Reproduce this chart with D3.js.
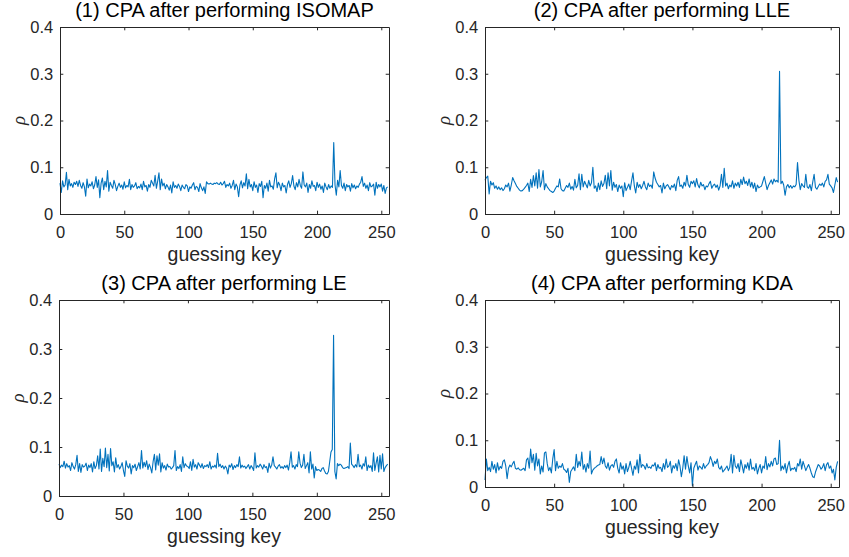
<!DOCTYPE html>
<html>
<head>
<meta charset="utf-8">
<script src="https://cdn.jsdelivr.net/npm/d3@7"></script>
<style>
  html, body { margin: 0; padding: 0; background: #fff; }
  svg { display: block; font-family: "Liberation Sans", Arial, sans-serif; }
  .tick line { stroke: #262626; }
  .domain { stroke: #262626; }
  .tick text { fill: #262626; font-size: 16.5px; }
</style>
</head>
<body>
<div id="chart"></div>
<script>
const titles = [
    "(1) CPA after performing ISOMAP",
    "(2) CPA after performing LLE",
    "(3) CPA after performing LE",
    "(4) CPA after performing KDA"
];
const xTicks = [0, 50, 100, 150, 200, 250];
const yTicks = [0, 0.1, 0.2, 0.3, 0.4];

// correlation per guessing key (0..255)
const isomap = [
    0.066,0.046,0.071,0.058,0.062,0.089,0.052,0.074,0.060,0.065,0.057,0.068,0.063,0.070,0.059,0.072,
    0.061,0.055,0.067,0.058,0.038,0.075,0.056,0.064,0.060,0.069,0.054,0.062,0.080,0.057,0.073,0.035,
    0.066,0.077,0.052,0.070,0.058,0.093,0.049,0.068,0.061,0.055,0.072,0.063,0.050,0.059,0.066,0.057,
    0.062,0.053,0.069,0.056,0.061,0.058,0.074,0.052,0.063,0.057,0.060,0.067,0.054,0.059,0.056,0.064,
    0.052,0.070,0.058,0.061,0.049,0.063,0.057,0.072,0.066,0.060,0.083,0.055,0.070,0.088,0.052,0.075,
    0.060,0.066,0.054,0.063,0.058,0.051,0.062,0.045,0.069,0.057,0.061,0.055,0.064,0.059,0.050,0.062,
    0.057,0.054,0.063,0.060,0.048,0.058,0.055,0.062,0.067,0.052,0.059,0.057,0.048,0.065,0.056,0.050,
    0.058,0.044,0.069,0.065,0.064,0.066,0.064,0.063,0.066,0.065,0.067,0.064,0.063,0.068,0.062,0.065,
    0.070,0.057,0.063,0.060,0.066,0.055,0.061,0.072,0.052,0.064,0.058,0.037,0.062,0.071,0.056,0.067,
    0.060,0.086,0.054,0.074,0.058,0.063,0.050,0.069,0.057,0.062,0.046,0.065,0.059,0.070,0.035,0.061,
    0.055,0.066,0.049,0.072,0.058,0.060,0.053,0.075,0.088,0.056,0.068,0.062,0.050,0.066,0.058,0.061,
    0.045,0.063,0.071,0.057,0.065,0.082,0.060,0.052,0.067,0.058,0.074,0.061,0.055,0.090,0.062,0.058,
    0.066,0.046,0.063,0.055,0.071,0.059,0.061,0.050,0.068,0.057,0.064,0.053,0.060,0.046,0.066,0.058,
    0.052,0.063,0.055,0.060,0.057,0.153,0.062,0.040,0.072,0.058,0.093,0.061,0.055,0.066,0.050,0.063,
    0.058,0.061,0.049,0.065,0.056,0.062,0.054,0.060,0.057,0.064,0.068,0.080,0.059,0.066,0.055,0.062,
    0.050,0.067,0.058,0.060,0.064,0.040,0.068,0.055,0.063,0.058,0.064,0.049,0.061,0.044,0.056,0.058
];
const lle = [
    0.072,0.078,0.081,0.043,0.070,0.062,0.067,0.055,0.060,0.053,0.058,0.052,0.056,0.050,0.054,0.062,
    0.058,0.066,0.049,0.062,0.078,0.071,0.065,0.059,0.055,0.051,0.049,0.050,0.053,0.057,0.061,0.066,
    0.048,0.074,0.057,0.082,0.060,0.088,0.055,0.095,0.058,0.069,0.093,0.052,0.065,0.058,0.054,0.050,
    0.048,0.046,0.049,0.055,0.060,0.058,0.075,0.054,0.050,0.049,0.055,0.061,0.057,0.066,0.053,0.059,
    0.051,0.074,0.056,0.061,0.086,0.052,0.085,0.058,0.070,0.063,0.056,0.072,0.060,0.067,0.100,0.055,
    0.060,0.048,0.066,0.052,0.071,0.059,0.065,0.083,0.054,0.088,0.060,0.093,0.051,0.068,0.057,0.063,
    0.048,0.062,0.055,0.060,0.037,0.067,0.050,0.057,0.064,0.052,0.071,0.088,0.060,0.045,0.068,0.057,
    0.063,0.054,0.061,0.070,0.058,0.052,0.066,0.059,0.062,0.055,0.090,0.077,0.068,0.063,0.058,0.061,
    0.045,0.066,0.054,0.060,0.063,0.058,0.052,0.061,0.057,0.064,0.050,0.072,0.080,0.059,0.062,0.055,
    0.068,0.060,0.083,0.063,0.057,0.070,0.065,0.071,0.058,0.076,0.062,0.056,0.068,0.060,0.063,0.052,
    0.060,0.058,0.065,0.070,0.055,0.061,0.064,0.057,0.062,0.051,0.060,0.085,0.057,0.098,0.060,0.066,
    0.054,0.062,0.058,0.071,0.055,0.066,0.060,0.068,0.057,0.074,0.063,0.079,0.065,0.070,0.061,0.075,
    0.058,0.068,0.055,0.066,0.048,0.062,0.056,0.058,0.060,0.070,0.080,0.066,0.052,0.061,0.067,0.073,
    0.064,0.075,0.069,0.072,0.068,0.305,0.065,0.070,0.062,0.040,0.058,0.063,0.056,0.061,0.055,0.060,
    0.058,0.063,0.110,0.072,0.052,0.065,0.060,0.057,0.085,0.058,0.055,0.063,0.050,0.068,0.085,0.057,
    0.053,0.059,0.064,0.061,0.066,0.058,0.070,0.073,0.085,0.064,0.060,0.056,0.046,0.062,0.078,0.068
];
const le = [
    0.065,0.058,0.063,0.060,0.071,0.057,0.066,0.059,0.062,0.052,0.068,0.060,0.055,0.064,0.083,0.050,
    0.066,0.048,0.064,0.059,0.061,0.067,0.052,0.063,0.058,0.066,0.049,0.070,0.056,0.062,0.082,0.055,
    0.096,0.050,0.077,0.060,0.098,0.058,0.085,0.051,0.097,0.062,0.070,0.049,0.078,0.058,0.064,0.055,
    0.060,0.068,0.052,0.040,0.072,0.061,0.057,0.066,0.045,0.062,0.058,0.065,0.052,0.060,0.068,0.055,
    0.093,0.057,0.069,0.060,0.072,0.054,0.065,0.058,0.047,0.070,0.085,0.053,0.082,0.063,0.086,0.049,
    0.068,0.057,0.062,0.053,0.065,0.059,0.060,0.055,0.058,0.062,0.093,0.052,0.060,0.056,0.064,0.050,
    0.080,0.058,0.066,0.061,0.060,0.056,0.070,0.052,0.075,0.059,0.064,0.055,0.068,0.063,0.058,0.066,
    0.056,0.062,0.060,0.064,0.058,0.070,0.055,0.061,0.059,0.063,0.057,0.087,0.060,0.065,0.058,0.062,
    0.055,0.061,0.057,0.045,0.063,0.059,0.066,0.054,0.062,0.058,0.064,0.060,0.080,0.057,0.063,0.059,
    0.061,0.056,0.060,0.064,0.055,0.062,0.058,0.052,0.088,0.057,0.062,0.059,0.065,0.061,0.055,0.064,
    0.058,0.060,0.048,0.067,0.057,0.063,0.080,0.062,0.059,0.055,0.061,0.064,0.057,0.060,0.056,0.062,
    0.058,0.063,0.053,0.068,0.090,0.059,0.062,0.055,0.064,0.060,0.090,0.067,0.058,0.063,0.085,0.056,
    0.062,0.068,0.047,0.090,0.055,0.065,0.037,0.060,0.052,0.054,0.053,0.050,0.056,0.058,0.051,0.046,
    0.045,0.050,0.070,0.090,0.095,0.328,0.050,0.035,0.066,0.062,0.065,0.063,0.058,0.056,0.057,0.058,
    0.060,0.056,0.108,0.065,0.062,0.058,0.064,0.059,0.085,0.060,0.063,0.055,0.066,0.061,0.080,0.052,
    0.063,0.058,0.062,0.050,0.088,0.052,0.067,0.080,0.049,0.083,0.055,0.086,0.050,0.058,0.062,0.065
];
const kda = [
    0.015,0.060,0.035,0.042,0.033,0.055,0.038,0.048,0.030,0.052,0.036,0.044,0.040,0.055,0.058,0.045,
    0.018,0.040,0.047,0.043,0.050,0.055,0.040,0.038,0.041,0.037,0.036,0.038,0.040,0.035,0.058,0.062,
    0.040,0.081,0.052,0.070,0.036,0.072,0.045,0.060,0.028,0.045,0.032,0.073,0.075,0.050,0.035,0.042,
    0.030,0.060,0.080,0.035,0.055,0.040,0.045,0.042,0.050,0.038,0.036,0.031,0.040,0.010,0.033,0.038,
    0.043,0.035,0.070,0.042,0.055,0.045,0.075,0.038,0.048,0.032,0.050,0.040,0.077,0.028,0.036,0.040,
    0.042,0.045,0.047,0.048,0.065,0.050,0.062,0.045,0.040,0.052,0.036,0.045,0.048,0.042,0.055,0.060,
    0.040,0.030,0.052,0.038,0.045,0.028,0.050,0.033,0.042,0.055,0.040,0.025,0.045,0.038,0.058,0.030,
    0.070,0.042,0.048,0.045,0.038,0.050,0.041,0.043,0.040,0.047,0.045,0.052,0.035,0.048,0.040,0.042,
    0.033,0.050,0.038,0.060,0.042,0.045,0.055,0.030,0.046,0.040,0.050,0.035,0.058,0.045,0.022,0.040,
    0.067,0.038,0.065,0.045,0.030,0.052,0.003,0.040,0.048,0.055,0.036,0.045,0.042,0.038,0.050,0.040,
    0.045,0.048,0.052,0.065,0.057,0.044,0.055,0.050,0.060,0.042,0.038,0.045,0.032,0.036,0.040,0.045,
    0.035,0.042,0.070,0.030,0.068,0.045,0.040,0.050,0.033,0.058,0.045,0.030,0.048,0.040,0.052,0.036,
    0.060,0.038,0.042,0.035,0.050,0.028,0.040,0.048,0.030,0.045,0.040,0.065,0.037,0.050,0.043,0.055,
    0.045,0.060,0.062,0.048,0.050,0.100,0.035,0.045,0.038,0.050,0.030,0.045,0.055,0.035,0.040,0.038,
    0.042,0.033,0.050,0.045,0.060,0.038,0.055,0.045,0.035,0.042,0.048,0.040,0.030,0.022,0.020,0.032,
    0.040,0.048,0.045,0.038,0.042,0.050,0.035,0.048,0.052,0.040,0.045,0.030,0.038,0.015,0.042,0.055
];

const series = [isomap, lle, le, kda];
// plot boxes: left, top, right, bottom
const boxes = [
    [60, 27, 389, 214],
    [485, 27, 839, 214],
    [59, 300, 389, 496],
    [485, 300, 839, 487]
];

const width = 849, height = 557;
const svg = d3.select("#chart").append("svg")
    .attr("width", width)
    .attr("height", height);

const fmt = d => d === 0 ? "0" : d3.format(".1f")(d);

series.forEach((values, k) => {
    const [l, t, r, b] = boxes[k];
    const x = d3.scaleLinear().domain([0, 256]).range([l, r]);
    const y = d3.scaleLinear().domain([0, 0.4]).range([b, t]);
    const tick = 3.3;

    const g = svg.append("g");

    g.append("path")
        .datum(values)
        .attr("fill", "none")
        .attr("stroke", "#0072BD")
        .attr("stroke-width", 1.1)
        .attr("stroke-linejoin", "round")
        .attr("d", d3.line().x((d, i) => x(i)).y(d => y(d)));

    g.append("g")
        .attr("transform", `translate(0,${b})`)
        .call(d3.axisBottom(x).tickValues(xTicks).tickSize(-tick).tickSizeOuter(0).tickPadding(12.5));
    g.append("g")
        .attr("transform", `translate(0,${t})`)
        .call(d3.axisTop(x).tickValues(xTicks).tickSize(-tick).tickSizeOuter(0).tickFormat(""));
    g.append("g")
        .attr("transform", `translate(${l},0)`)
        .call(d3.axisLeft(y).tickValues(yTicks).tickSize(-tick).tickSizeOuter(0).tickPadding(6.8).tickFormat(fmt));
    g.append("g")
        .attr("transform", `translate(${r},0)`)
        .call(d3.axisRight(y).tickValues(yTicks).tickSize(-tick).tickSizeOuter(0).tickFormat(""));

    g.append("text")
        .attr("x", (l + r) / 2)
        .attr("y", t - 10)
        .attr("text-anchor", "middle")
        .attr("fill", "#000")
        .style("font-size", "20px")
        .text(titles[k]);

    g.append("text")
        .attr("x", (l + r) / 2)
        .attr("y", b + 47)
        .attr("text-anchor", "middle")
        .attr("fill", "#262626")
        .style("font-size", "19.5px")
        .text("guessing key");

    g.append("text")
        .attr("transform", `translate(${l - 35},${(t + b) / 2}) rotate(-90)`)
        .attr("text-anchor", "middle")
        .attr("fill", "#262626")
        .style("font-size", "19px")
        .style("font-style", "italic")
        .style("font-family", "Liberation Serif, serif")
        .text("ρ");
});
</script>
</body>
</html>
